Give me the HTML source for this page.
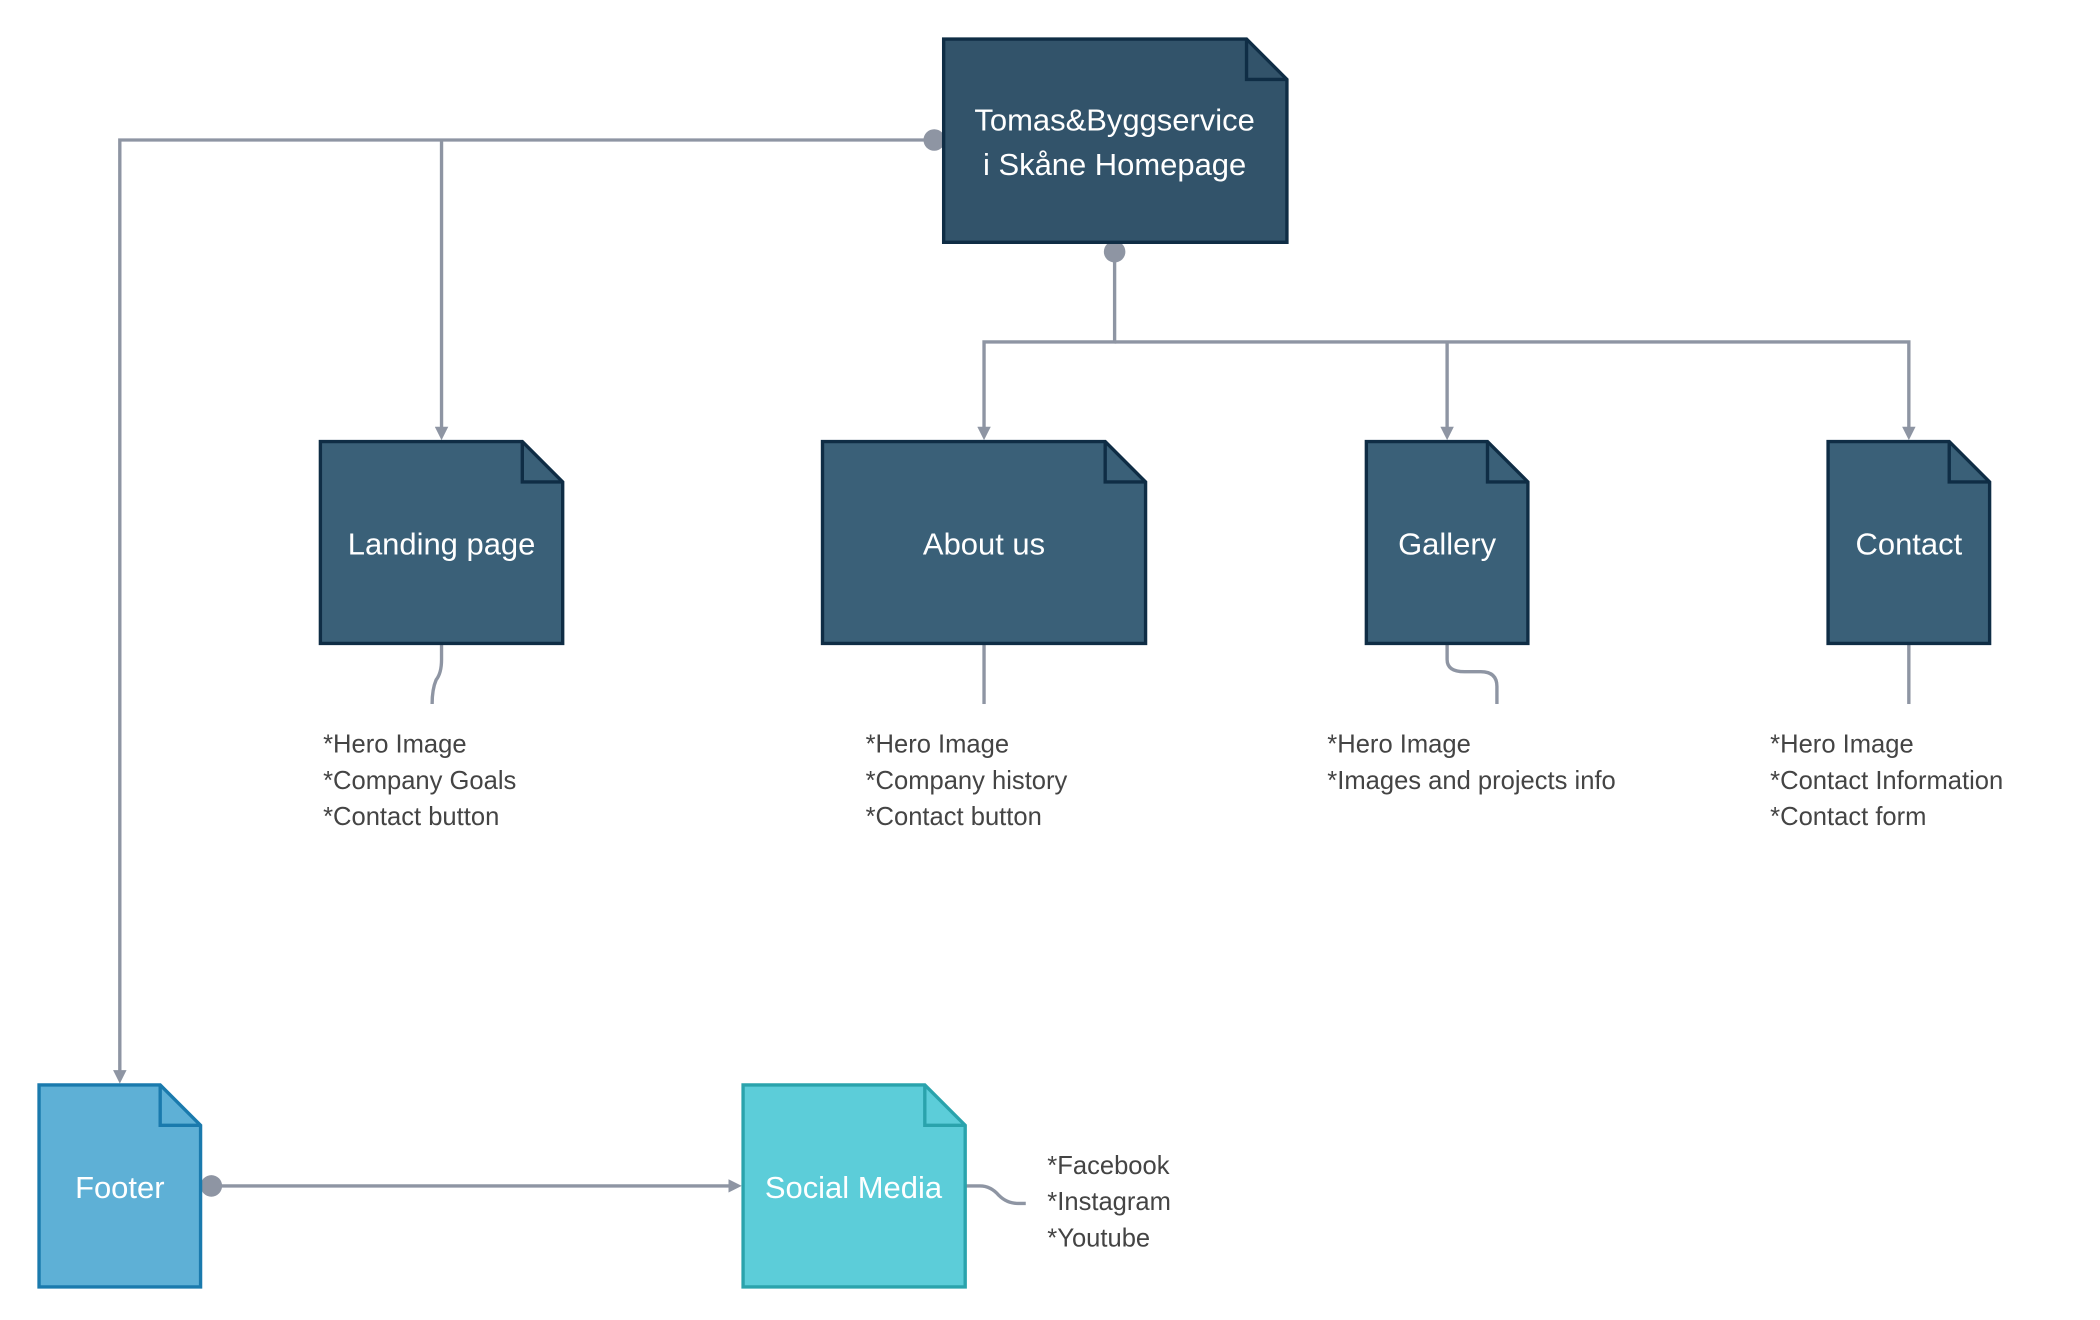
<!DOCTYPE html>
<html><head><meta charset="utf-8"><style>
html,body{margin:0;padding:0;background:#fff;width:2100px;height:1320px;overflow:hidden}
svg{display:block}
text{font-family:"Liberation Sans",sans-serif}
</style></head><body>
<svg width="2100" height="1320" viewBox="0 0 1560 980.6" preserveAspectRatio="none" xmlns="http://www.w3.org/2000/svg">
<defs>
<marker id="a" markerWidth="10" markerHeight="10" refX="5" refY="5" orient="auto" markerUnits="userSpaceOnUse"><path d="M0,0 L10,5 L0,10 z" fill="#8e95a3"/></marker>
</defs>
<g fill="none" stroke="#8e95a3" stroke-width="2.5">
<path d="M694,104 H89 V800" marker-end="url(#a)"/>
<path d="M328,104 V322" marker-end="url(#a)"/>
<path d="M828,187 V254 H731 V322" marker-end="url(#a)"/>
<path d="M828,254 H1418 V322" marker-end="url(#a)"/>
<path d="M1075,254 V322" marker-end="url(#a)"/>
<path d="M157,881 H546" marker-end="url(#a)"/>
<path d="M328,478 V490 Q328,500 324,505 Q321,512 321,523"/>
<path d="M731,478 V523"/>
<path d="M1075,478 V490 Q1075,499 1088,499 H1100 Q1112,499 1112,510 V523"/>
<path d="M1418,478 V523"/>
<path d="M717,881 H728 Q736,881 742,888 Q748,894 756,894 H762"/>
</g>
<circle cx="694" cy="104" r="8" fill="#8e95a3"/>
<circle cx="828" cy="187" r="8" fill="#8e95a3"/>
<circle cx="157" cy="881" r="8" fill="#8e95a3"/>
<g stroke-width="2.5" stroke-linejoin="miter">
<path d="M701,29 H926 L956,59 V180 H701 Z" fill="#32536a" stroke="#0f2d45"/>
<path d="M926,29 V59 H956" fill="none" stroke="#0f2d45"/>
<path d="M238,328 H388 L418,358 V478 H238 Z" fill="#3a6078" stroke="#0f2d45"/>
<path d="M388,328 V358 H418" fill="none" stroke="#0f2d45"/>
<path d="M611,328 H821 L851,358 V478 H611 Z" fill="#3a6078" stroke="#0f2d45"/>
<path d="M821,328 V358 H851" fill="none" stroke="#0f2d45"/>
<path d="M1015,328 H1105 L1135,358 V478 H1015 Z" fill="#3a6078" stroke="#0f2d45"/>
<path d="M1105,328 V358 H1135" fill="none" stroke="#0f2d45"/>
<path d="M1358,328 H1448 L1478,358 V478 H1358 Z" fill="#3a6078" stroke="#0f2d45"/>
<path d="M1448,328 V358 H1478" fill="none" stroke="#0f2d45"/>
<path d="M29,806 H119 L149,836 V956 H29 Z" fill="#5eb0d6" stroke="#1a7aad"/>
<path d="M119,806 V836 H149" fill="none" stroke="#1a7aad"/>
<path d="M552,806 H687 L717,836 V956 H552 Z" fill="#5ccdd9" stroke="#2aa3ac"/>
<path d="M687,806 V836 H717" fill="none" stroke="#2aa3ac"/>
</g>
<g fill="#fff" font-size="23" text-anchor="middle">
<text x="828" y="97">Tomas&amp;Byggservice</text>
<text x="828" y="130">i Skåne Homepage</text>
<text x="328" y="412">Landing page</text>
<text x="731" y="412">About us</text>
<text x="1075" y="412">Gallery</text>
<text x="1418" y="412">Contact</text>
<text x="89" y="890">Footer</text>
<text x="634" y="890">Social Media</text>
</g>
<g fill="#444" font-size="19">
<text x="240" y="559">*Hero Image</text>
<text x="240" y="586">*Company Goals</text>
<text x="240" y="613">*Contact button</text>
<text x="643" y="559">*Hero Image</text>
<text x="643" y="586">*Company history</text>
<text x="643" y="613">*Contact button</text>
<text x="986" y="559">*Hero Image</text>
<text x="986" y="586">*Images and projects info</text>
<text x="1315" y="559">*Hero Image</text>
<text x="1315" y="586">*Contact Information</text>
<text x="1315" y="613">*Contact form</text>
<text x="778" y="872">*Facebook</text>
<text x="778" y="899">*Instagram</text>
<text x="778" y="926">*Youtube</text>
</g>
</svg>
</body></html>
